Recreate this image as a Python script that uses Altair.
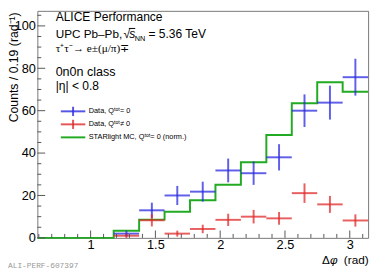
import altair as alt
import pandas as pd

# ---------------- data ----------------
bin_edges = [0.5890, 0.7854, 0.9817, 1.1781, 1.3744, 1.5708, 1.7671,
             1.9635, 2.1598, 2.3562, 2.5525, 2.7489, 2.9452, 3.1416]
mc_values = [0, 0, 0, 3.4, 8.6, 12.3, 17.7, 25.1, 35.7, 48.5, 63.5, 73.4, 68.9]
first_data_bin = 3
os_values = [2.0, 13.0, 20.0, 21.8, 31.8, 30.5, 38.0, 60.0, 63.8, 75.8]
os_errors = [1.4, 3.6, 4.5, 4.7, 5.6, 5.5, 6.2, 7.7, 8.0, 8.7]
ss_values = [1.0, 8.3, 2.0, 4.2, 8.5, 10.0, 9.2, 21.1, 15.8, 8.2]
ss_errors = [1.0, 2.9, 1.4, 2.0, 2.9, 3.2, 3.0, 4.6, 4.0, 2.9]

x_major = [1, 1.5, 2, 2.5, 3]
x_minor = [0.6, 0.7, 0.8, 0.9, 1.1, 1.2, 1.3, 1.4, 1.6, 1.7, 1.8, 1.9,
           2.1, 2.2, 2.3, 2.4, 2.6, 2.7, 2.8, 2.9, 3.1]
y_major = [0, 20, 40, 60, 80, 100]
y_minor = [5, 10, 15, 25, 30, 35, 45, 50, 55, 65, 70, 75, 85, 90, 95, 105]

W, H = 338, 232
Y_MAX = 107.1
BLUE = "#2a2ae0"
RED = "#e02a2a"
GREEN = "#22aa22"
FONT = "Liberation Sans"

# ---------------- tables ----------------
mc_df = pd.DataFrame({"x": bin_edges, "y": mc_values + [mc_values[-1]]})

rows = []
for name, vals, errs in (("os", os_values, os_errors), ("ss", ss_values, ss_errors)):
    for i, (v, e) in enumerate(zip(vals, errs)):
        lo = bin_edges[first_data_bin + i]
        hi = bin_edges[first_data_bin + i + 1]
        rows.append({"series": name, "lo": lo, "hi": hi, "c": (lo + hi) / 2,
                     "v": v, "vlo": v - e, "vhi": v + e})
data_df = pd.DataFrame(rows)

xs = alt.Scale(domain=[bin_edges[0], bin_edges[-1]], nice=False, zero=False)
ys = alt.Scale(domain=[0, Y_MAX], nice=False, zero=False)
cs = alt.Scale(domain=["os", "ss"], range=[BLUE, RED])

x_axis = alt.Axis(values=x_major, format="~g", title=None, grid=False, domain=False,
                  ticks=False, tickSize=0, labelPadding=1, labelFont=FONT,
                  labelFontSize=13, labelColor="black", labelFlush=False)
y_axis = alt.Axis(values=y_major, format="d", grid=False, domain=False,
                  ticks=False, tickSize=0, labelPadding=2, labelFont=FONT,
                  labelFontSize=13, labelColor="black",
                  title="Counts / 0.19 (rad⁻¹)", titleFont=FONT,
                  titleFontSize=12.5, titleFontWeight="normal", titleColor="black",
                  titleAngle=270, titleAlign="right", titleBaseline="middle",
                  titleX=-24, titleY=1)


def X(field):
    return alt.X(field, scale=xs, axis=x_axis)


def Y(field):
    return alt.Y(field, scale=ys, axis=y_axis)


mc = alt.Chart(mc_df).mark_line(interpolate="step-after", color=GREEN,
                                strokeWidth=2).encode(x=X("x:Q"), y=Y("y:Q"))

hbars = alt.Chart(data_df).mark_rule(strokeWidth=2, opacity=0.75).encode(
    x=X("lo:Q"), x2="hi:Q", y=Y("v:Q"),
    color=alt.Color("series:N", scale=cs, legend=None),
)
vbars = alt.Chart(data_df).mark_rule(strokeWidth=2, opacity=0.75).encode(
    x=X("c:Q"), y=Y("vlo:Q"), y2="vhi:Q",
    color=alt.Color("series:N", scale=cs, legend=None),
)

TICK = "#555555"


def yticks(vals, length):
    return alt.Chart(pd.DataFrame({"t": vals})).mark_rule(color=TICK, strokeWidth=1).encode(
        y=Y("t:Q"), x=alt.value(0), x2=alt.value(length))


def xticks(vals, length):
    return alt.Chart(pd.DataFrame({"t": vals})).mark_rule(color=TICK, strokeWidth=1).encode(
        x=X("t:Q"), y=alt.value(H), y2=alt.value(H - length))


def txt(s, x, y, size=12.5, align="left", baseline="alphabetic", font=FONT,
        style="normal", color="black"):
    return alt.Chart(pd.DataFrame({"s": [s]})).mark_text(
        align=align, baseline=baseline, font=font, fontSize=size,
        fontStyle=style, color=color).encode(
        text="s:N", x=alt.value(x), y=alt.value(y))


def seg(x1, x2, y1, y2, color, width=2, opacity=1.0):
    return alt.Chart(pd.DataFrame({"d": [0]})).mark_rule(
        color=color, strokeWidth=width, opacity=opacity).encode(
        x=alt.value(x1), x2=alt.value(x2), y=alt.value(y1), y2=alt.value(y2))


annots = [
    txt("ALICE Performance", 18.7, 10.3, 12.3),
    txt("UPC Pb–Pb,", 18.7, 28, 12.0),
    txt("√", 88, 28, 12.3),
    seg(93.5, 100, 18, 18, "black", 1),
    txt("s", 94, 28, 12.3, style="italic"),
    txt("NN", 99.5, 30.5, 7.5),
    txt("= 5.36 TeV", 113.5, 28, 12.3),
    txt("τ⁺τ⁻→ e±(μ/π)∓", 18.7, 42, 11.5, font="Liberation Serif"),
    txt("0n0n class", 18.7, 67, 12.8),
    txt("|η| < 0.8", 18.7, 81.3, 12.3),
    # legend
    seg(24, 49, 102.7, 102.7, BLUE, 2, 0.8),
    seg(36.5, 36.5, 98, 107.5, BLUE, 2, 0.8),
    txt("Data, Qᵗᵒᵗ= 0", 52.5, 102.7, 7.5, baseline="middle"),
    seg(24, 49, 116, 116, RED, 2, 0.8),
    seg(36.5, 36.5, 111.3, 120.7, RED, 2, 0.8),
    txt("Data, Qᵗᵒᵗ≠ 0", 52.5, 116, 7.5, baseline="middle"),
    seg(24, 49, 129.3, 129.3, GREEN, 2),
    txt("STARlight MC, Qᵗᵒᵗ= 0 (norm.)", 52.5, 129.3, 7.5, baseline="middle"),
    # x title
    txt("Δ", 291, 258.5, 12),
    txt("φ", 299, 258.5, 12, style="italic"),
    txt("(rad)", 338.5, 258.5, 12, align="right"),
    # footer
    txt("ALI-PERF-607397", -30, 261, 8, baseline="middle",
        font="Liberation Mono", color="#999999"),
]

chart = alt.layer(
    mc, hbars, vbars,
    yticks(y_major, 8), yticks(y_minor, 4), xticks(x_major, 7.5), xticks(x_minor, 4),
    *annots,
).properties(
    width=W, height=H,
    autosize=alt.AutoSizeParams(type="none"),
    padding={"left": 30, "top": 0, "right": 5, "bottom": 33},
).configure_view(stroke="#777777", strokeWidth=1)

chart.save("out.html", embed_options={"renderer": "svg", "actions": False})
